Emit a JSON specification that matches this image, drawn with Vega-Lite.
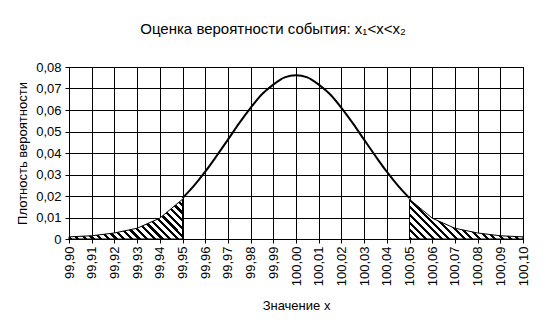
{
  "$schema": "https://vega.github.io/schema/vega-lite/v6.json",
  "width": 454,
  "height": 172,
  "autosize": {"type": "none"},
  "padding": {"left": 69, "top": 67, "right": 23, "bottom": 91},
  "background": "white",
  "title": {
    "text": "Оценка вероятности события: x₁<x<x₂",
    "font": "Liberation Sans",
    "fontSize": 15,
    "fontWeight": "normal",
    "color": "black",
    "offset": 24,
    "dx": -23
  },
  "config": {
    "font": "Liberation Sans",
    "view": {"stroke": "black", "strokeWidth": 1},
    "axis": {
      "labelFont": "Liberation Sans",
      "labelFontSize": 13,
      "labelColor": "black",
      "titleFont": "Liberation Sans",
      "titleFontSize": 13,
      "titleFontWeight": "normal",
      "titleColor": "black",
      "domainColor": "black",
      "tickColor": "black",
      "gridColor": "black",
      "gridOpacity": 1,
      "gridWidth": 1,
      "tickSize": 4
    }
  },
  "datasets": {
    "curve": [
      {"x": 99.95, "p": 0.0190},
      {"x": 99.955, "p": 0.0247},
      {"x": 99.96, "p": 0.0313},
      {"x": 99.965, "p": 0.0386},
      {"x": 99.97, "p": 0.0462},
      {"x": 99.975, "p": 0.0539},
      {"x": 99.98, "p": 0.0610},
      {"x": 99.985, "p": 0.0673},
      {"x": 99.99, "p": 0.0718},
      {"x": 99.995, "p": 0.0752},
      {"x": 100.0, "p": 0.0762},
      {"x": 100.005, "p": 0.0752},
      {"x": 100.01, "p": 0.0718},
      {"x": 100.015, "p": 0.0673},
      {"x": 100.02, "p": 0.0610},
      {"x": 100.025, "p": 0.0539},
      {"x": 100.03, "p": 0.0462},
      {"x": 100.035, "p": 0.0386},
      {"x": 100.04, "p": 0.0313},
      {"x": 100.045, "p": 0.0247},
      {"x": 100.05, "p": 0.0190}
    ],
    "left": [
      {"x": 99.90, "p": 0.0010},
      {"x": 99.91, "p": 0.0015},
      {"x": 99.92, "p": 0.0028},
      {"x": 99.93, "p": 0.0050},
      {"x": 99.94, "p": 0.0097},
      {"x": 99.95, "p": 0.0185}
    ],
    "right": [
      {"x": 100.05, "p": 0.0185},
      {"x": 100.06, "p": 0.0097},
      {"x": 100.07, "p": 0.0050},
      {"x": 100.08, "p": 0.0028},
      {"x": 100.09, "p": 0.0015},
      {"x": 100.10, "p": 0.0010}
    ]
  },
  "encoding": {
    "x": {
      "field": "x", "type": "quantitative",
      "scale": {"domain": [99.9, 100.1], "nice": false, "zero": false},
      "axis": {
        "title": "Значение x",
        "values": [99.9, 99.91, 99.92, 99.93, 99.94, 99.95, 99.96, 99.97, 99.98, 99.99, 100.0, 100.01, 100.02, 100.03, 100.04, 100.05, 100.06, 100.07, 100.08, 100.09, 100.1],
        "labelExpr": "replace(format(datum.value, '.2f'), '.', ',')",
        "labelAngle": 270,
        "labelPadding": 3,
        "labelFlush": false,
        "labelOverlap": false,
        "labelBound": false,
        "grid": true,
        "titlePadding": 14
      }
    },
    "y": {
      "field": "p", "type": "quantitative",
      "scale": {"domain": [0, 0.08], "nice": false},
      "axis": {
        "title": "Плотность вероятности",
        "values": [0, 0.01, 0.02, 0.03, 0.04, 0.05, 0.06, 0.07, 0.08],
        "labelExpr": "datum.value == 0 ? '0' : replace(format(datum.value, '.2f'), '.', ',')",
        "labelPadding": 4,
        "labelFlush": false,
        "labelOverlap": false,
        "labelBound": false,
        "grid": true,
        "titlePadding": 6
      }
    }
  },
  "layer": [
    {
      "data": {"name": "left"},
      "mark": {
        "type": "area",
        "stroke": "black",
        "strokeWidth": 1,
        "fill": {
          "gradient": "linear",
          "x1": 0, "y1": 1, "x2": 1.2027, "y2": 0.579,
          "stops": [
            {"offset": 0, "color": "black"}, {"offset": 0.02, "color": "black"}, {"offset": 0.02, "color": "white"}, {"offset": 0.05, "color": "white"},
            {"offset": 0.05, "color": "black"}, {"offset": 0.07, "color": "black"}, {"offset": 0.07, "color": "white"}, {"offset": 0.1, "color": "white"},
            {"offset": 0.1, "color": "black"}, {"offset": 0.12, "color": "black"}, {"offset": 0.12, "color": "white"}, {"offset": 0.15, "color": "white"},
            {"offset": 0.15, "color": "black"}, {"offset": 0.17, "color": "black"}, {"offset": 0.17, "color": "white"}, {"offset": 0.2, "color": "white"},
            {"offset": 0.2, "color": "black"}, {"offset": 0.22, "color": "black"}, {"offset": 0.22, "color": "white"}, {"offset": 0.25, "color": "white"},
            {"offset": 0.25, "color": "black"}, {"offset": 0.27, "color": "black"}, {"offset": 0.27, "color": "white"}, {"offset": 0.3, "color": "white"},
            {"offset": 0.3, "color": "black"}, {"offset": 0.32, "color": "black"}, {"offset": 0.32, "color": "white"}, {"offset": 0.35, "color": "white"},
            {"offset": 0.35, "color": "black"}, {"offset": 0.37, "color": "black"}, {"offset": 0.37, "color": "white"}, {"offset": 0.4, "color": "white"},
            {"offset": 0.4, "color": "black"}, {"offset": 0.42, "color": "black"}, {"offset": 0.42, "color": "white"}, {"offset": 0.45, "color": "white"},
            {"offset": 0.45, "color": "black"}, {"offset": 0.47, "color": "black"}, {"offset": 0.47, "color": "white"}, {"offset": 0.5, "color": "white"},
            {"offset": 0.5, "color": "black"}, {"offset": 0.52, "color": "black"}, {"offset": 0.52, "color": "white"}, {"offset": 0.55, "color": "white"},
            {"offset": 0.55, "color": "black"}, {"offset": 0.57, "color": "black"}, {"offset": 0.57, "color": "white"}, {"offset": 0.6, "color": "white"},
            {"offset": 0.6, "color": "black"}, {"offset": 0.62, "color": "black"}, {"offset": 0.62, "color": "white"}, {"offset": 0.65, "color": "white"},
            {"offset": 0.65, "color": "black"}, {"offset": 0.67, "color": "black"}, {"offset": 0.67, "color": "white"}, {"offset": 0.7, "color": "white"},
            {"offset": 0.7, "color": "black"}, {"offset": 0.72, "color": "black"}, {"offset": 0.72, "color": "white"}, {"offset": 0.75, "color": "white"},
            {"offset": 0.75, "color": "black"}, {"offset": 0.77, "color": "black"}, {"offset": 0.77, "color": "white"}, {"offset": 0.8, "color": "white"},
            {"offset": 0.8, "color": "black"}, {"offset": 0.82, "color": "black"}, {"offset": 0.82, "color": "white"}, {"offset": 0.85, "color": "white"},
            {"offset": 0.85, "color": "black"}, {"offset": 0.87, "color": "black"}, {"offset": 0.87, "color": "white"}, {"offset": 0.9, "color": "white"},
            {"offset": 0.9, "color": "black"}, {"offset": 0.92, "color": "black"}, {"offset": 0.92, "color": "white"}, {"offset": 0.95, "color": "white"},
            {"offset": 0.95, "color": "black"}, {"offset": 0.97, "color": "black"}, {"offset": 0.97, "color": "white"}, {"offset": 1, "color": "white"}
          ]
        }
      }
    },
    {
      "data": {"name": "right"},
      "mark": {
        "type": "area",
        "stroke": "black",
        "strokeWidth": 1,
        "fill": {
          "gradient": "linear",
          "x1": 0, "y1": 1, "x2": 1.2027, "y2": 0.579,
          "stops": [
            {"offset": 0, "color": "black"}, {"offset": 0.02, "color": "black"}, {"offset": 0.02, "color": "white"}, {"offset": 0.05, "color": "white"},
            {"offset": 0.05, "color": "black"}, {"offset": 0.07, "color": "black"}, {"offset": 0.07, "color": "white"}, {"offset": 0.1, "color": "white"},
            {"offset": 0.1, "color": "black"}, {"offset": 0.12, "color": "black"}, {"offset": 0.12, "color": "white"}, {"offset": 0.15, "color": "white"},
            {"offset": 0.15, "color": "black"}, {"offset": 0.17, "color": "black"}, {"offset": 0.17, "color": "white"}, {"offset": 0.2, "color": "white"},
            {"offset": 0.2, "color": "black"}, {"offset": 0.22, "color": "black"}, {"offset": 0.22, "color": "white"}, {"offset": 0.25, "color": "white"},
            {"offset": 0.25, "color": "black"}, {"offset": 0.27, "color": "black"}, {"offset": 0.27, "color": "white"}, {"offset": 0.3, "color": "white"},
            {"offset": 0.3, "color": "black"}, {"offset": 0.32, "color": "black"}, {"offset": 0.32, "color": "white"}, {"offset": 0.35, "color": "white"},
            {"offset": 0.35, "color": "black"}, {"offset": 0.37, "color": "black"}, {"offset": 0.37, "color": "white"}, {"offset": 0.4, "color": "white"},
            {"offset": 0.4, "color": "black"}, {"offset": 0.42, "color": "black"}, {"offset": 0.42, "color": "white"}, {"offset": 0.45, "color": "white"},
            {"offset": 0.45, "color": "black"}, {"offset": 0.47, "color": "black"}, {"offset": 0.47, "color": "white"}, {"offset": 0.5, "color": "white"},
            {"offset": 0.5, "color": "black"}, {"offset": 0.52, "color": "black"}, {"offset": 0.52, "color": "white"}, {"offset": 0.55, "color": "white"},
            {"offset": 0.55, "color": "black"}, {"offset": 0.57, "color": "black"}, {"offset": 0.57, "color": "white"}, {"offset": 0.6, "color": "white"},
            {"offset": 0.6, "color": "black"}, {"offset": 0.62, "color": "black"}, {"offset": 0.62, "color": "white"}, {"offset": 0.65, "color": "white"},
            {"offset": 0.65, "color": "black"}, {"offset": 0.67, "color": "black"}, {"offset": 0.67, "color": "white"}, {"offset": 0.7, "color": "white"},
            {"offset": 0.7, "color": "black"}, {"offset": 0.72, "color": "black"}, {"offset": 0.72, "color": "white"}, {"offset": 0.75, "color": "white"},
            {"offset": 0.75, "color": "black"}, {"offset": 0.77, "color": "black"}, {"offset": 0.77, "color": "white"}, {"offset": 0.8, "color": "white"},
            {"offset": 0.8, "color": "black"}, {"offset": 0.82, "color": "black"}, {"offset": 0.82, "color": "white"}, {"offset": 0.85, "color": "white"},
            {"offset": 0.85, "color": "black"}, {"offset": 0.87, "color": "black"}, {"offset": 0.87, "color": "white"}, {"offset": 0.9, "color": "white"},
            {"offset": 0.9, "color": "black"}, {"offset": 0.92, "color": "black"}, {"offset": 0.92, "color": "white"}, {"offset": 0.95, "color": "white"},
            {"offset": 0.95, "color": "black"}, {"offset": 0.97, "color": "black"}, {"offset": 0.97, "color": "white"}, {"offset": 1, "color": "white"}
          ]
        }
      }
    },
    {
      "data": {"name": "curve"},
      "mark": {"type": "line", "color": "black", "strokeWidth": 2, "interpolate": "monotone"}
    }
  ]
}
